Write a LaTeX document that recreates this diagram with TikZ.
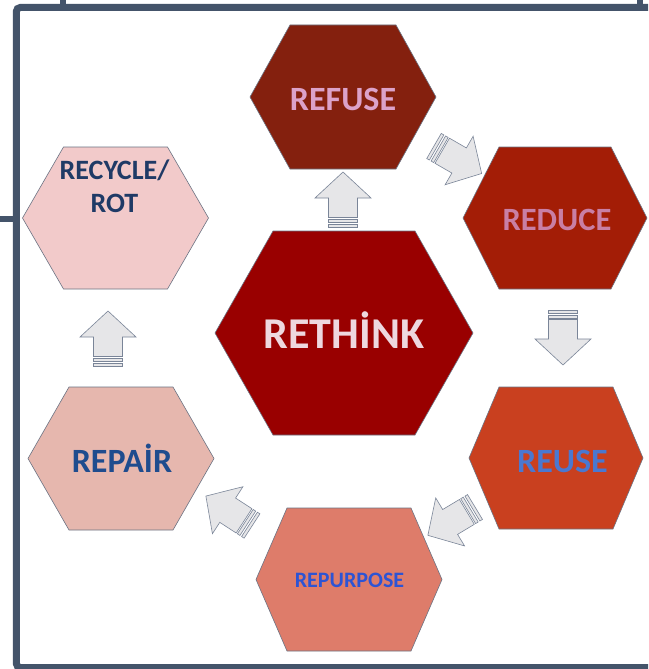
\documentclass[tikz,border=0pt]{standalone}
\usepackage{fontspec}
\setmainfont{Carlito}

\definecolor{framecol}{HTML}{44546A}
\definecolor{hexedge}{HTML}{6B7383}
\definecolor{arrowfill}{HTML}{E6E6E8}
\definecolor{arrowedge}{HTML}{7A8598}
\definecolor{refusefill}{HTML}{84200E}
\definecolor{reducefill}{HTML}{A31D06}
\definecolor{reusefill}{HTML}{C9401F}
\definecolor{repurposefill}{HTML}{DE7C6A}
\definecolor{repairfill}{HTML}{E6B7AE}
\definecolor{recyclefill}{HTML}{F2CACA}
\definecolor{rethinkfill}{HTML}{990000}
\definecolor{refusetext}{HTML}{DCA2C9}
\definecolor{reducetext}{HTML}{C97FA5}
\definecolor{reusetext}{HTML}{4A78D0}
\definecolor{repurposetext}{HTML}{2D54D4}
\definecolor{repairtext}{HTML}{1F4C8E}
\definecolor{recycletext}{HTML}{1F3A66}
\definecolor{rethinktext}{HTML}{EED8DF}

\tikzset{
  frameline/.style={draw=framecol, line width=7pt},
  hexline/.style={draw=hexedge, line width=0.6pt},
  lbl/.style={font=\bfseries\fontsize{#1}{#1}\selectfont, inner sep=0pt, anchor=base, align=center},
  blockarrow/.style={draw=arrowedge, fill=arrowfill, line width=0.6pt},
  stripearrow/.pic={
    \draw[blockarrow] (0,-14.5) rectangle (3,14.5);
    \draw[blockarrow] (5,-14.5) rectangle (8,14.5);
    \draw[blockarrow] (9.5,-14.5) -- (29,-14.5) -- (29,-28) -- (55,0) -- (29,28) -- (29,14.5) -- (9.5,14.5) -- cycle;
  }
}

\begin{document}
\begin{tikzpicture}[x=1pt,y=-1pt]
  \useasboundingbox (0,0) rectangle (648,669);
  \clip (0,0) rectangle (648,669);
  \fill[white] (0,0) rectangle (648,669);
  % frame
  \draw[draw=framecol, line width=6pt] (63,-5) -- (63,7);
  \draw[draw=framecol, line width=6pt] (639.5,-5) -- (639.5,7);
  \draw[frameline, rounded corners=4pt] (660,667.5) -- (16.3,667.5) -- (16.3,7.5) -- (660,7.5);
  \draw[frameline, line width=6pt] (-5,218.5) -- (14,218.5);
  % hexagons
  \foreach \cx/\cy/\hw/\hh/\ins/\col in {343/97/93/72/40/refusefill, 555/218/92/71/36/reducefill, 556/458/87/71/30/reusefill, 349/579.5/93/71.5/31/repurposefill, 121/458.5/93/71.5/41/repairfill, 115.5/218/93/71/41/recyclefill, 344/333/129/102/58/rethinkfill}{
    \draw[hexline, fill=\col] (\cx-\hw,\cy) -- (\cx-\hw+\ins,\cy-\hh) -- (\cx+\hw-\ins,\cy-\hh)
      -- (\cx+\hw,\cy) -- (\cx+\hw-\ins,\cy+\hh) -- (\cx-\hw+\ins,\cy+\hh) -- cycle;
  }
  % labels
  \node[lbl=34, text=refusetext] (refuse) at (343,110) {REFUSE};
  \node[lbl=32.5, text=reducetext] (reduce) at (557,230) {REDUCE};
  \node[lbl=34, text=reusetext] (reuse) at (562.5,472) {REUSE};
  \node[lbl=22, text=repurposetext] (repurpose) at (349.5,587) {REPURPOSE};
  \node[lbl=34, text=repairtext] (repair) at (122,472) {REPAİR};
  \node[lbl=28, text=recycletext, font=\bfseries\fontsize{28}{33}\selectfont] (recycle) at (114.5,212) {RECYCLE/\\ROT};
  \node[lbl=44, text=rethinktext] (rethink) at (344,348) {RETHİNK};
  % arrows
  \foreach \ax/\ay/\ang in {343/227/90, 108/366/90, 563/310/-90, 434/146/-30, 475/507/-149, 252/526/147}{
    \pic[rotate=\ang] at (\ax,\ay) {stripearrow};
  }
\end{tikzpicture}
\end{document}
